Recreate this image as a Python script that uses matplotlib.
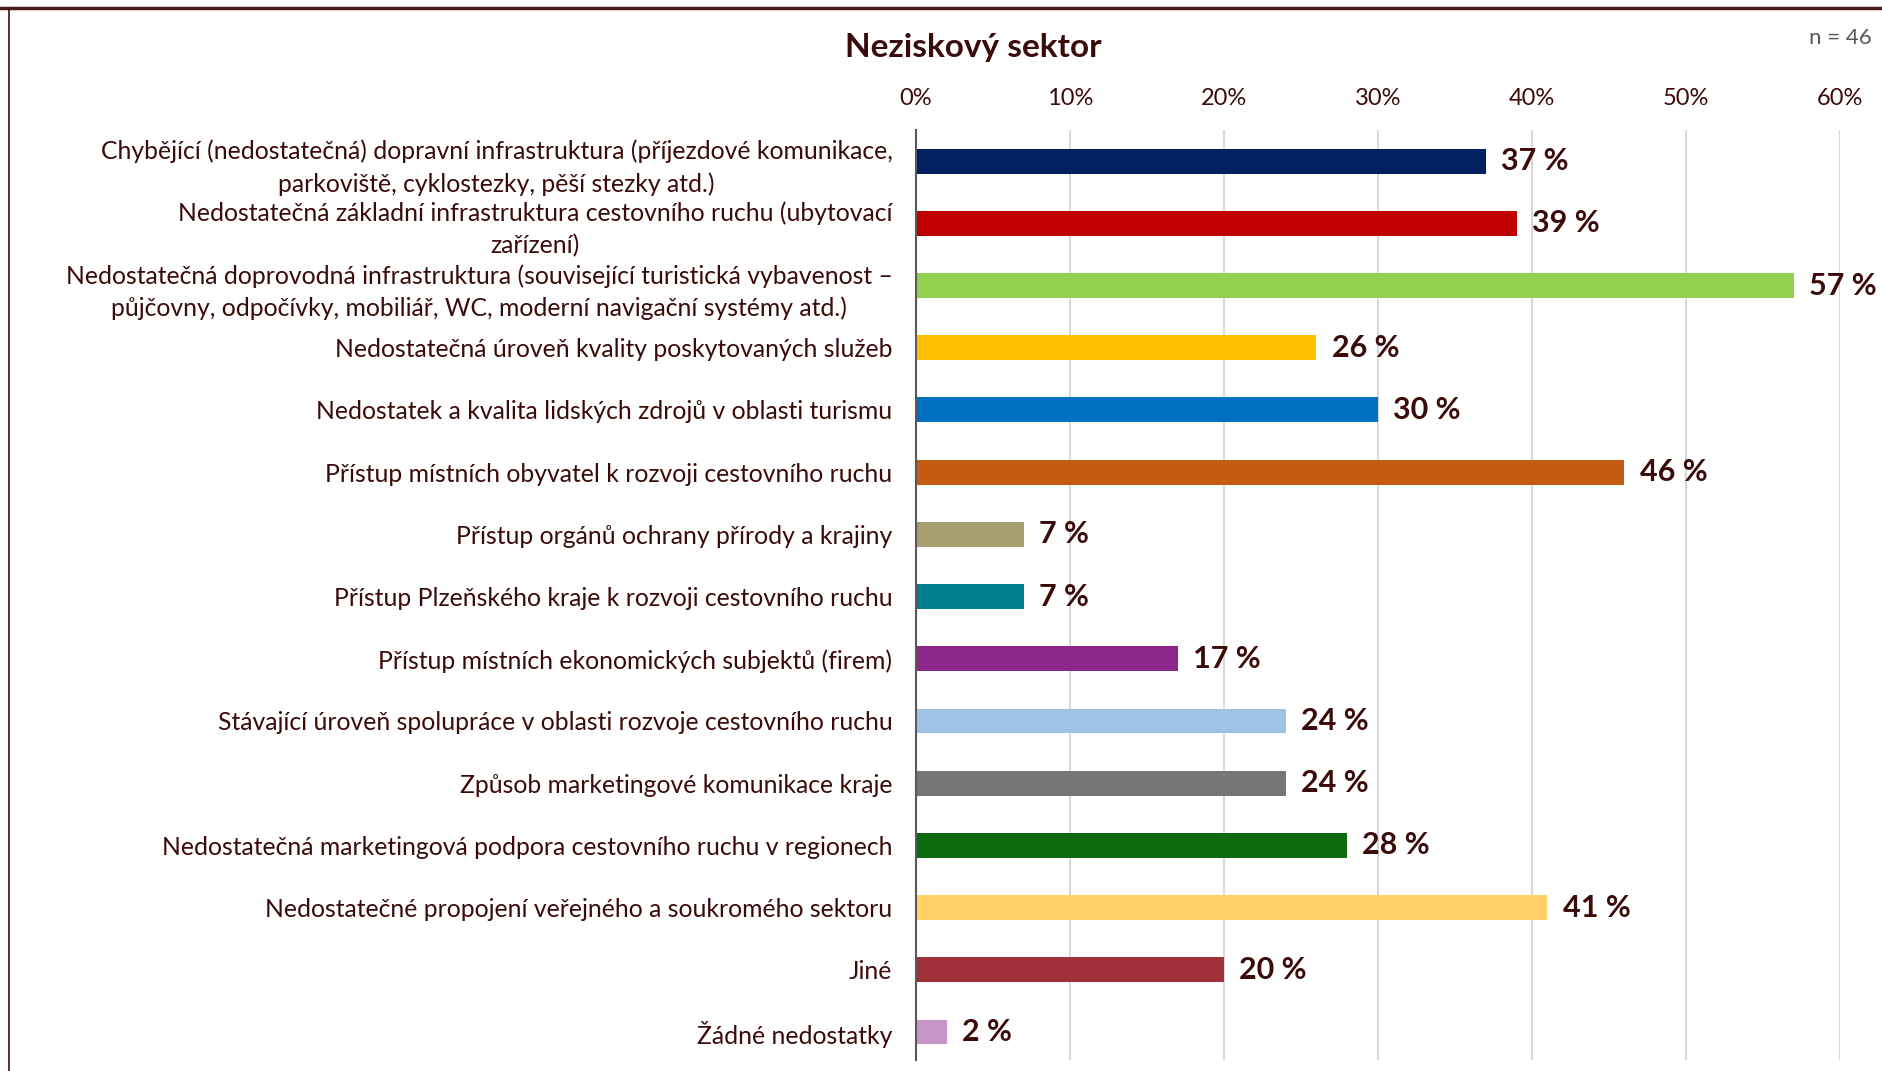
import matplotlib.pyplot as plt
from matplotlib.lines import Line2D

plt.rcParams["font.family"] = ["Lato", "DejaVu Sans"]

# Data
categories = [
    "Chybějící (nedostatečná) dopravní infrastruktura (příjezdové komunikace,\nparkoviště, cyklostezky, pěší stezky atd.)",
    "Nedostatečná základní infrastruktura cestovního ruchu (ubytovací\nzařízení)",
    "Nedostatečná doprovodná infrastruktura (související turistická vybavenost –\npůjčovny, odpočívky, mobiliář, WC, moderní navigační systémy atd.)",
    "Nedostatečná úroveň kvality poskytovaných služeb",
    "Nedostatek a kvalita lidských zdrojů v oblasti turismu",
    "Přístup místních obyvatel k rozvoji cestovního ruchu",
    "Přístup orgánů ochrany přírody a krajiny",
    "Přístup Plzeňského kraje k rozvoji cestovního ruchu",
    "Přístup místních ekonomických subjektů (firem)",
    "Stávající úroveň spolupráce v oblasti rozvoje cestovního ruchu",
    "Způsob marketingové komunikace kraje",
    "Nedostatečná marketingová podpora cestovního ruchu v regionech",
    "Nedostatečné propojení veřejného a soukromého sektoru",
    "Jiné",
    "Žádné nedostatky",
]
values = [37, 39, 57, 26, 30, 46, 7, 7, 17, 24, 24, 28, 41, 20, 2]
colors = [
    "#002060", "#C00000", "#92D050", "#FFC000", "#0070C0",
    "#C55A11", "#A69E6E", "#007F8E", "#8C2689", "#9DC3E6",
    "#767676", "#0B6A0B", "#FFD166", "#A0303A", "#C795C8",
]
xticks = [0, 10, 20, 30, 40, 50, 60]
xtick_labels = ["0%", "10%", "20%", "30%", "40%", "50%", "60%"]

text_color = "#3B0A0A"

fig = plt.figure(figsize=(18.83, 10.71), dpi=100)
ax = fig.add_axes([916 / 1883, 1 - 1060 / 1071, (1840 - 916) / 1883, (1060 - 130) / 1071])

ypos = list(range(len(categories)))
ax.barh(ypos, values, height=0.4, color=colors, zorder=3)

for y, v in zip(ypos, values):
    ax.annotate(f"{v} %", xy=(v, y), xytext=(11, 0), textcoords="offset points",
                ha="left", va="center", fontsize=22, fontweight="bold", color=text_color)

ax.set_xlim(0, 60)
ax.set_ylim(len(categories) - 0.55, -0.5)
ax.set_xticks(xticks)
ax.set_xticklabels(xtick_labels)
ax.xaxis.tick_top()
ax.set_yticks(ypos)
ax.set_yticklabels(categories, multialignment="center", linespacing=1.45)
ax.tick_params(axis="x", length=0, pad=15, labelsize=17, labelcolor=text_color)
ax.tick_params(axis="y", length=0, pad=17, labelsize=17.8, labelcolor=text_color)

ax.grid(axis="x", color="#D9D9D9", linewidth=1.5, zorder=0)
for s in ["top", "right", "bottom"]:
    ax.spines[s].set_visible(False)
ax.spines["left"].set_color("#595959")
ax.spines["left"].set_linewidth(1.5)
ax.spines["left"].set_zorder(4)

fig.text(973 / 1883, 1 - 48 / 1071, "Neziskový sektor", ha="center", va="center",
         fontsize=24, fontweight="bold", color=text_color)
fig.text(1872 / 1883, 1 - 38 / 1071, "n = 46", ha="right", va="center",
         fontsize=16, color="#595959")

# frame lines at top and left
fig.add_artist(Line2D([0, 1], [1 - 8 / 1071, 1 - 8 / 1071], color="#4A1A1A", linewidth=2.5))
fig.add_artist(Line2D([9 / 1883, 9 / 1883], [0, 1 - 8 / 1071], color="#3B1010", linewidth=1.2))

fig.savefig("out.png", dpi=100)
